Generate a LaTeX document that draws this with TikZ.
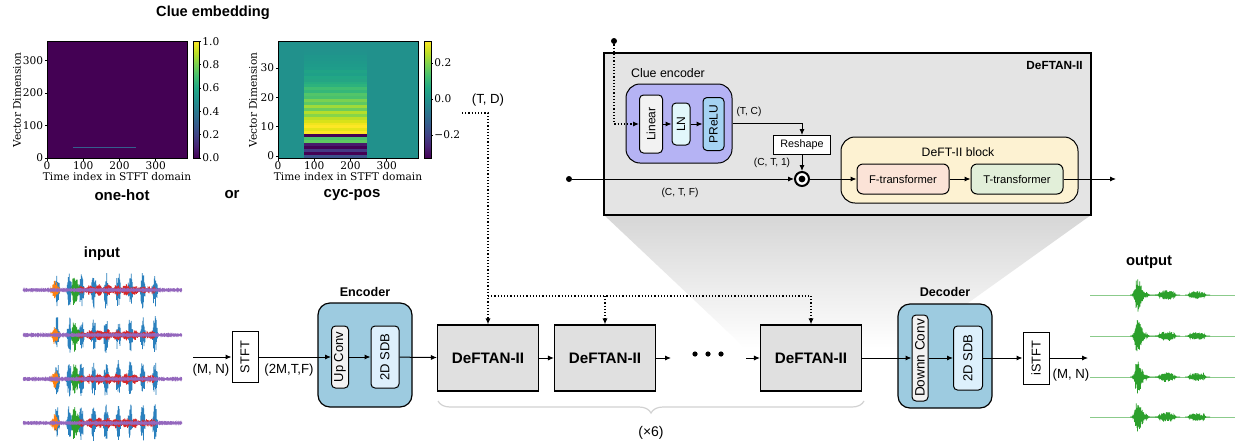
\documentclass[tikz,border=0pt]{standalone}
\usepackage{fontspec}
\setmainfont{Liberation Sans}
\newfontfamily\plotfont{DejaVu Serif}
\usepackage{tikz}
\usetikzlibrary{arrows.meta, positioning, decorations.pathreplacing, calc}
\definecolor{panelGray}{HTML}{E4E4E4}
\definecolor{blockGray}{HTML}{E0E0E0}
\definecolor{encBlue}{HTML}{9DCBE0}
\definecolor{convGray}{HTML}{F2F2F2}
\definecolor{sdbBlue}{HTML}{DDF0FC}
\definecolor{clueViolet}{HTML}{B5B3F4}
\definecolor{lnCyan}{HTML}{E2F7FB}
\definecolor{preluBlue}{HTML}{A5D3F3}
\definecolor{deftYellow}{HTML}{FDF2D2}
\definecolor{fPink}{HTML}{FBE3D7}
\definecolor{tGreen}{HTML}{E2EFD9}
\definecolor{wBlue}{HTML}{2A80BE}
\definecolor{wOrange}{HTML}{FF7F0E}
\definecolor{wGreen}{HTML}{2CA02C}
\definecolor{wRed}{HTML}{D62728}
\definecolor{wPurple}{HTML}{9467BD}
\definecolor{vir0}{HTML}{440154}
\definecolor{vir1}{HTML}{482475}
\definecolor{vir2}{HTML}{414487}
\definecolor{vir3}{HTML}{355F8D}
\definecolor{vir4}{HTML}{2A788E}
\definecolor{vir5}{HTML}{21918C}
\definecolor{vir6}{HTML}{22A884}
\definecolor{vir7}{HTML}{44BF70}
\definecolor{vir8}{HTML}{7AD151}
\definecolor{vir9}{HTML}{BDDF26}
\definecolor{vir10}{HTML}{FDE725}
\pgfdeclareverticalshading{viridis}{100bp}{color(0bp)=(vir0); color(25bp)=(vir0);
  color(30bp)=(vir1); color(35bp)=(vir2); color(40bp)=(vir3); color(45bp)=(vir4);
  color(50bp)=(vir5); color(55bp)=(vir6); color(60bp)=(vir7); color(65bp)=(vir8);
  color(70bp)=(vir9); color(75bp)=(vir10); color(100bp)=(vir10)}

\tikzset{declare function={comb(\t)=max(0,cos(29.388*(\t-57)));
    flip(\t)=cos(720*mod(\t,4));}}

% noisy mixture, one channel
\newcommand{\mixwave}[1]{%
  \draw[wBlue, line width=0.3pt] plot[domain=50:162, samples=449] (\x, {#1+19*comb(\x)*(0.25+0.75*rnd)*flip(\x)});
  \draw[wOrange, line width=0.3pt] plot[domain=49:62, samples=53] (\x, {#1+10*exp(-((\x-55)/3)^2)*(0.4+0.6*rnd)*flip(\x)});
  \draw[wGreen, line width=0.3pt] plot[domain=69:88, samples=77] (\x, {#1+17*exp(-((\x-74)/((\x<74)?2:5))^2)*(0.4+0.6*rnd)*flip(\x)});
  \draw[wRed, line width=0.3pt] plot[domain=78:156, samples=313] (\x, {#1+6*exp(-((\x-112)/38)^4)*(0.75+0.25*cos(40*\x))*(0.4+0.6*rnd)*flip(\x)});
  \draw[wPurple, line width=0.3pt] plot[domain=23:182, samples=637] (\x, {#1+0.8*(0.3+0.7*rnd)*flip(\x)});
}
% extracted speech, one channel
\newcommand{\cleanwave}[1]{%
  \draw[wGreen!55, line width=0.5pt] (1090,#1) -- (1235,#1);
  \draw[wGreen, line width=0.3pt] plot[domain=1130:1160, samples=121] (\x, {#1+17*exp(-((\x-1137)/((\x<1137)?2.5:6))^2)*(0.4+0.6*rnd)*flip(\x)});
  \draw[wGreen, line width=0.3pt] plot[domain=1155:1180, samples=101] (\x, {#1+5*exp(-((\x-1167)/7)^4)*(0.4+0.6*rnd)*flip(\x)});
  \draw[wGreen, line width=0.3pt] plot[domain=1185:1210, samples=101] (\x, {#1+4*exp(-((\x-1197)/7)^4)*(0.4+0.6*rnd)*flip(\x)});
}

\begin{document}
\begin{tikzpicture}[x=0.5pt, y=-0.5pt,
    >={Latex[length=3pt,width=2.6pt]},
    conn/.style={->, line width=0.5pt},
    clue/.style={->, densely dotted, line width=0.6pt},
    ttl/.style={font=\bfseries\fontsize{7.4}{9}\selectfont, inner sep=0pt},
    lbl/.style={font=\fontsize{6.6}{8}\selectfont, inner sep=0.5pt},
    small/.style={font=\fontsize{5.1}{6}\selectfont, inner sep=0.5pt},
    tick/.style={font=\plotfont\fontsize{5.3}{6}\selectfont, inner sep=0.5pt},
    deftan/.style={draw, line width=0.6pt, fill=blockGray, minimum width=50.5pt,
      minimum height=33pt, inner sep=0pt, font=\bfseries\fontsize{7.6}{9}\selectfont},
    coder/.style={draw, line width=0.6pt, fill=encBlue, rounded corners=6pt,
      minimum width=47pt, minimum height=52pt},
    vbox/.style={draw, line width=0.5pt, rounded corners=2pt, rotate=90, inner sep=0pt,
      font=\fontsize{6.5}{8}\selectfont},
    tf/.style={draw, line width=0.5pt, rounded corners=3pt, minimum width=46pt,
      minimum height=15pt, inner sep=0pt, font=\fontsize{5.6}{7}\selectfont}]
\useasboundingbox (0,0) rectangle (1235,445);
\fill[white] (0,0) rectangle (1235,445);
\pgfmathsetseed{11}

% zoom funnel below the DeFTAN-II panel
\shade[top color=gray!32, bottom color=white] (604,215) -- (1091,215) -- (905,348) -- (745,348) -- cycle;

%% clue embedding plots
\node[ttl, font=\bfseries\fontsize{7.3}{9}\selectfont] (embT) at (213,13) {Clue embedding};
% one-hot
\fill[vir0] (47,41) rectangle (187,158);
\draw[vir3, line width=0.7pt] (73,147.3) -- (135.5,147.3);
\draw[line width=0.4pt] (47,41) rectangle (187,158);
\foreach \v [count=\i] in {0,100,200,300}
    \draw[line width=0.4pt] ({47+\v*0.3627},158) -- ++(0,2.5) node[below, tick] (ax\i) {\v};
\foreach \v [count=\i] in {0,100,200,300}
    \draw[line width=0.4pt] (47,{158-\v*0.325}) -- ++(-2.5,0) node[left, tick] (ay\i) {\v};
\shade[shading=viridis] (193,41) rectangle (199,158);
\draw[line width=0.4pt] (193,41) rectangle (199,158);
\foreach \v [count=\i] in {0.0,0.2,0.4,0.6,0.8,1.0}
    \draw[line width=0.4pt] (199,{158-\v*116.5}) -- ++(2,0) node[right, tick] (ac\i) {\v};
\node[tick, rotate=90] (aylab) at (17,100) {Vector Dimension};
\node[tick] (axlab) at (117,177) {Time index in STFT domain};
% cyc-pos
\fill[vir5] (278,41) rectangle (418,158);
\begin{scope}
\clip (278,41) rectangle (418,158);
\foreach \c [count=\i from 0] in {3B528B,440154,443983,440154,481A6C,5EC962,4AC16D,440154,
    FDE725,E5E419,FDE725,F1E51D,D8E219,BDDF26,86D549,B5DE2B,6CCD5A,A0DA39,5EC962,7AD151,
    4AC16D,52C569,35B779,40BD72,2DB27D,27AD81,25A584,22A785,1FA088,20A386,1F9D8A,1E9B8A,
    1F998A,1F978B,1F968B,20938C,21928C,21918C,21918C,21918C}{
    \definecolor{stripe}{HTML}{\c}
    \fill[stripe] (304,{157.7-\i*2.93}) rectangle (366.5,{157.5-(\i+1)*2.93-0.3});
}
\end{scope}
\draw[line width=0.4pt] (278,41) rectangle (418,158);
\foreach \v [count=\i] in {0,100,200,300}
    \draw[line width=0.4pt] ({278+\v*0.3627},158) -- ++(0,2.5) node[below, tick] (bx\i) {\v};
\foreach \v [count=\i] in {0,10,20,30}
    \draw[line width=0.4pt] (278,{156-\v*2.93}) -- ++(-2.5,0) node[left, tick] (by\i) {\v};
\shade[shading=viridis] (424,41) rectangle (431,158);
\draw[line width=0.4pt] (424,41) rectangle (431,158);
\foreach \v/\t [count=\i] in {0.2/0.2,0.0/0.0,-0.2/−0.2}
    \draw[line width=0.4pt] (431,{99-\v*180}) -- ++(2,0) node[right, tick] (bc\i) {\t};
\node[tick, rotate=90] (bylab) at (253,100) {Vector Dimension};
\node[tick] (bxlab) at (348,177) {Time index in STFT domain};
\node[ttl, font=\bfseries\fontsize{7.5}{9}\selectfont] (onehot) at (122,195) {one-hot};
\node[ttl, font=\bfseries\fontsize{7.5}{9}\selectfont] (orword) at (232,195) {or};
\node[ttl, font=\bfseries\fontsize{7.5}{9}\selectfont] (cycpos) at (352,195) {cyc-pos};

%% DeFTAN-II panel
\node[draw, line width=0.6pt, fill=panelGray, minimum width=243.5pt, minimum height=81pt] (panel) at (847.5,134) {};
\node[anchor=north east, inner sep=0pt, font=\bfseries\fontsize{5.9}{7}\selectfont] (panelT) at (1083,61) {DeFTAN-II};
\node[draw, line width=0.5pt, fill=clueViolet, rounded corners=7pt, minimum width=53pt, minimum height=39.5pt] (clueenc) at (679,123.5) {};
\node[inner sep=0pt, font=\fontsize{6.2}{7}\selectfont] (clueT) at (668,73) {Clue encoder};
\node[vbox, fill=convGray, minimum width=29pt, minimum height=11.5pt, font=\fontsize{6}{7}\selectfont] (linear) at (651,124) {Linear};
\node[vbox, fill=lnCyan, minimum width=21pt, minimum height=9pt, font=\fontsize{6}{7}\selectfont] (ln) at (681,124) {LN};
\node[vbox, fill=preluBlue, minimum width=26.5pt, minimum height=10.5pt, font=\fontsize{6}{7}\selectfont] (prelu) at (713.5,124) {PReLU};
\draw[conn] (linear) -- (ln);
\draw[conn] (ln) -- (prelu);
\node[draw, line width=0.5pt, fill=white, minimum width=28.5pt, minimum height=9.5pt, inner sep=0pt,
    font=\fontsize{5.4}{6}\selectfont] (reshape) at (802,145) {Reshape};
\draw[conn] (clueenc.east) -| (reshape.north);
\node[small] (tc) at (749,112) {(T, C)};
\node[circle, draw, line width=1pt, fill=white, minimum size=7pt, inner sep=0pt] (mul) at (802,179) {};
\fill (mul) circle (1.7pt);
\draw[conn] (reshape) -- (mul);
\node[small] (ct1) at (772,163) {(C, T, 1)};
\node[circle, fill, minimum size=3pt, inner sep=0pt] (xin) at (569,179) {};
\draw[conn] (xin) -- (mul);
\node[small] (ctf) at (680,193) {(C, T, F)};
\node[draw, line width=0.5pt, fill=deftYellow, rounded corners=7pt, minimum width=118.5pt, minimum height=33pt] (deftblk) at (959.5,170) {};
\node[inner sep=0pt, font=\fontsize{6.1}{7}\selectfont] (deftT) at (958,152) {DeFT-II block};
\node[tf, fill=fPink] (ftrans) at (903,179) {F-transformer};
\node[tf, fill=tGreen] (ttrans) at (1017,179) {T-transformer};
\draw[conn] (mul) -- (ftrans);
\draw[conn] (ftrans) -- (ttrans);
\coordinate (yout) at (1116,179);
\draw[conn] (ttrans) -- (yout);
\node[circle, fill, minimum size=3pt, inner sep=0pt] (cue) at (614,41) {};
\draw[clue] (cue) |- (linear);

%% main pipeline
\node[ttl] (inT) at (102,254) {input};
\foreach \yy in {290,335,379,423}{
    \mixwave{\yy}
}
\node[ttl] (outT) at (1149,262) {output};
\foreach \yy in {295,336,377,417}{
    \cleanwave{\yy}
}

\coordinate (xmic) at (193,357);
\node[vbox, rounded corners=0pt, fill=white, minimum width=25.5pt, minimum height=13pt, font=\fontsize{6.4}{8}\selectfont] (stft) at (245,357) {STFT};
\draw[conn] (xmic) -- (stft);
\node[lbl] (mn) at (211,370) {(M, N)};

\node[coder] (enc) at (365,355) {};
\node[ttl, font=\bfseries\fontsize{6.3}{8}\selectfont] (encT) at (365,292) {Encoder};
\node[vbox, fill=convGray, minimum width=31pt, minimum height=8.5pt] (upconv) at (340,357) {Up Conv};
\node[vbox, fill=sdbBlue, minimum width=31pt, minimum height=14pt] (encsdb) at (385,357) {2D SDB};
\draw[conn] (stft) -- (upconv);
\node[lbl] (tf2m) at (289,370) {(2M,T,F)};
\draw[conn] (upconv) -- (encsdb);

\node[deftan] (dft1) at (488,358) {DeFTAN-II};
\node[deftan] (dft2) at (605,358) {DeFTAN-II};
\node[deftan] (dft3) at (811,358) {DeFTAN-II};
\draw[conn] (encsdb) -- (dft1);
\draw[conn] (dft1) -- (dft2);
\coordinate (gapL) at (671,358);
\coordinate (gapR) at (746,358);
\draw[conn] (dft2) -- (gapL);
\foreach \d in {695,708,721}
    \fill (\d,354) circle (1.3pt);
\draw[conn] (gapR) -- (dft3);

% clue feature to every block
\node[lbl] (td) at (488,100) {(T, D)};
\coordinate (tdin) at (462,113);
\coordinate (bus) at (488,296);
\draw[clue] (tdin) -| (dft1.north);
\draw[densely dotted, line width=0.6pt] (bus) -- (dft3.north |- bus);
\draw[clue] (dft2.north |- bus) -- (dft2.north);
\draw[clue] (dft3.north |- bus) -- (dft3.north);

\draw[decorate, decoration={brace, amplitude=6pt, mirror}, gray!35, line width=0.6pt] (438,401) -- (864,401);
\node[lbl, font=\fontsize{7}{8}\selectfont] (reps) at (651,433) {(×6)};

\node[coder] (dec) at (945,356) {};
\node[ttl, font=\bfseries\fontsize{6.3}{8}\selectfont] (decT) at (945,292) {Decoder};
\node[vbox, fill=convGray, minimum width=43pt, minimum height=8pt, font=\fontsize{6.8}{8}\selectfont] (downconv) at (920,358) {Downn Conv};
\node[vbox, fill=sdbBlue, minimum width=32pt, minimum height=14.5pt] (decsdb) at (968,358) {2D SDB};
\draw[conn] (dft3) -- (downconv);
\draw[conn] (downconv) -- (decsdb);
\node[vbox, rounded corners=0pt, fill=white, minimum width=26pt, minimum height=13pt, font=\fontsize{6.4}{8}\selectfont] (istft) at (1036,358) {iSTFT};
\draw[conn] (decsdb) -- (istft);
\coordinate (yspk) at (1088,358);
\draw[conn] (istft) -- (yspk);
\node[lbl] (mnout) at (1071,375) {(M, N)};
\end{tikzpicture}
\end{document}
